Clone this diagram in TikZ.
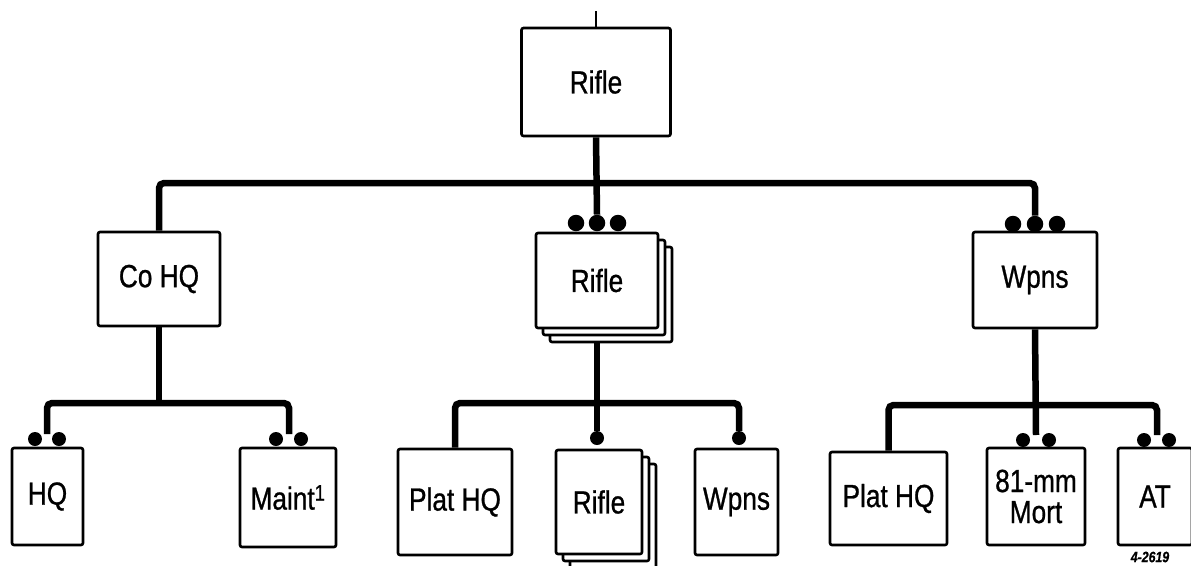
\documentclass[tikz,border=0pt]{standalone}
\usepackage{fontspec}
\setmainfont[FakeStretch=0.82, FakeBold=0.8]{Liberation Sans}
\usetikzlibrary{shadows}
\pgfdeclarelayer{bg}
\pgfsetlayers{bg,main}
\begin{document}
\begin{tikzpicture}[x=1pt,y=-1pt,
  box/.style={draw, line width=2.6pt, rounded corners=2pt, fill=white, inner sep=0pt, align=center,
    font=\fontsize{32}{31}\selectfont},
  stack/.style={copy shadow={shadow xshift=14pt, shadow yshift=-14pt, line width=2.6pt},
                copy shadow={shadow xshift=7pt, shadow yshift=-7pt, line width=2.6pt}},
  conn/.style={line width=6.5pt, rounded corners=5pt},
  thin/.style={line width=2.6pt},
  dotL/.style={circle, fill=black, inner sep=0pt, minimum size=16.5pt},
  dotS/.style={circle, fill=black, inner sep=0pt, minimum size=14pt},
  tag/.style={font=\bfseries\itshape\fontsize{15}{15}\selectfont, inner sep=0pt}]
\useasboundingbox (0,0) rectangle (1191,565);

% level 0
\coordinate (top) at (596,11);
\node[box, minimum width=149pt, minimum height=108pt] (r0) at (596,82) {Rifle};

% level 1
\node[box, minimum width=122pt, minimum height=94pt] (c1) at (159,279) {Co HQ};
\node[box, stack, minimum width=122pt, minimum height=95pt] (r1) at (597,280.5) {Rifle};
\node[box, minimum width=124pt, minimum height=96pt] (w1) at (1035,280) {Wpns};
\node[dotL] (r1d1) at (576,223) {};
\node[dotL] (r1d2) at (597,223) {};
\node[dotL] (r1d3) at (618,223) {};
\node[dotL] (w1d1) at (1013,224) {};
\node[dotL] (w1d2) at (1035,224) {};
\node[dotL] (w1d3) at (1057,224) {};
\coordinate (b1) at (597,183);

% level 2 left
\node[box, minimum width=71pt, minimum height=97pt] (h2) at (47.5,496.5) {HQ};
\node[box, minimum width=96pt, minimum height=99pt] (m2) at (288,497.5) {Maint\textsuperscript{1}};
\node[dotS] (h2d1) at (35,439) {};
\node[dotS] (h2d2) at (59,439) {};
\node[dotS] (m2d1) at (276,439) {};
\node[dotS] (m2d2) at (301,439) {};
\coordinate (b2) at (159,403);
\coordinate (h2c) at (47,434);
\coordinate (m2c) at (289,434);

% level 2 middle
\node[box, minimum width=114pt, minimum height=106pt] (p2) at (455,502) {Plat HQ};
\node[box, stack, minimum width=86pt, minimum height=104pt] (r2) at (599,502) {Rifle};
\node[box, minimum width=83pt, minimum height=106pt] (w2) at (736.5,502) {Wpns};
\node[dotS] (r2d) at (597,438) {};
\node[dotS] (w2d) at (739,438) {};
\coordinate (b3) at (597,403);

% level 2 right
\node[box, minimum width=117pt, minimum height=93pt] (p3) at (888.5,498.5) {Plat HQ};
\node[box, minimum width=98pt, minimum height=97pt] (m3) at (1036,496.5) {81-mm\\Mort};
\node[box, minimum width=74pt, minimum height=97pt] (a3) at (1155,496.5) {AT};
\node[dotS] (m3d1) at (1023,440) {};
\node[dotS] (m3d2) at (1049,440) {};
\node[dotS] (a3d1) at (1144,440) {};
\node[dotS] (a3d2) at (1169,440) {};
\coordinate (b4) at (1036,405);
\coordinate (m3c) at (1036,435);
\coordinate (a3c) at (1157,435);

\node[tag] (id) at (1150,557) {4-2619};

\begin{pgfonlayer}{bg}
  \draw[thin] (top) -- (r0.north);
  \draw[conn] (r0.south) -- (r1d2.north);
  \draw[conn] (c1.north) |- (b1) -| (w1d2.north);

  \draw[conn] (c1.south) -- (b2);
  \draw[conn] (h2c) |- (b2) -| (m2c);

  \draw[conn] (r1.south) -- (r2d.north);
  \draw[conn] (p2.north) |- (b3) -| (w2d.north);

  \draw[conn] (w1.south) -- (m3c);
  \draw[conn] (p3.north) |- (b4) -| (a3c);
\end{pgfonlayer}
\end{tikzpicture}
\end{document}
